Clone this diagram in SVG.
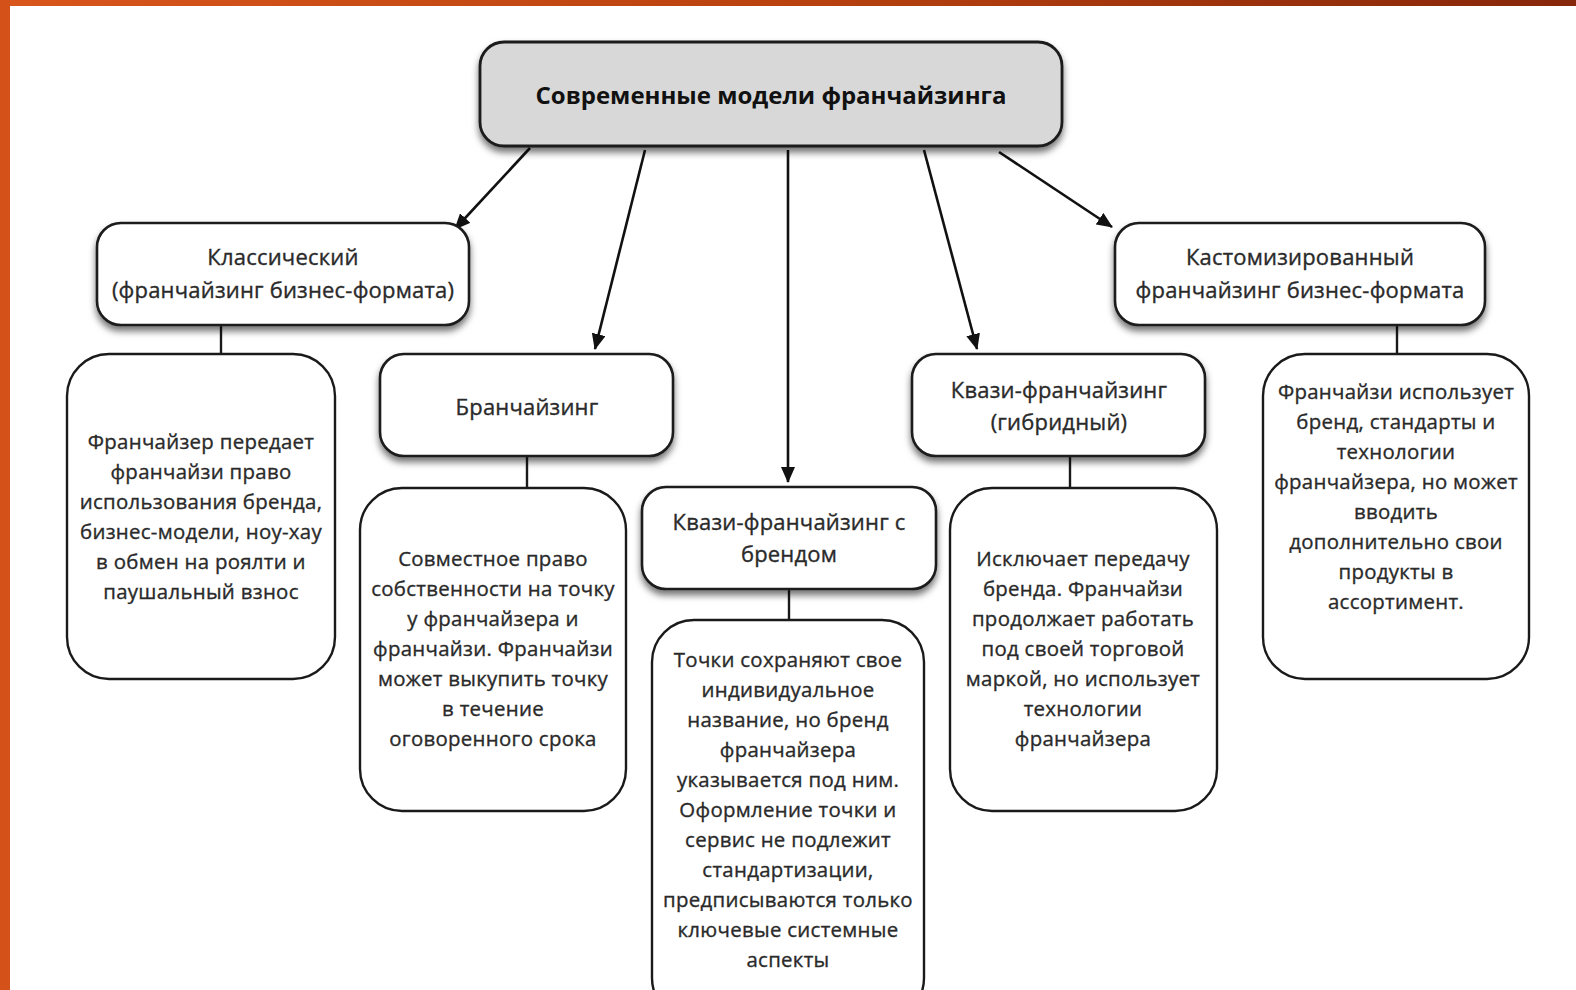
<svg xmlns="http://www.w3.org/2000/svg" width="1576" height="990" viewBox="0 0 1576 990">
<defs>
<linearGradient id="topbar" x1="0" y1="0" x2="1" y2="0">
<stop offset="0" stop-color="#d9561c"/>
<stop offset="0.5" stop-color="#b9420f"/>
<stop offset="1" stop-color="#86260a"/>
</linearGradient>
<filter id="sh" x="-10%" y="-20%" width="120%" height="150%">
<feDropShadow dx="0" dy="5" stdDeviation="3.5" flood-color="#000" flood-opacity="0.55"/>
</filter>
<marker id="ah2" viewBox="0 0 16 14" refX="15" refY="7" markerWidth="16" markerHeight="14" markerUnits="userSpaceOnUse" orient="auto">
<path d="M0,0 L16,7 L0,14 Z" fill="#111"/>
</marker>
</defs>
<style>
.hb{fill:#fff;stroke:#1a1a1a;stroke-width:2.6;filter:url(#sh)}
.db{fill:#fff;stroke:#1a1a1a;stroke-width:2.4}
.tb{fill:#d8d8d8;stroke:#1a1a1a;stroke-width:2.8;filter:url(#sh)}
text{font-family:"Open Sans","Noto Sans","DejaVu Sans",sans-serif;fill:#2a2a2a;stroke:#2a2a2a;stroke-width:0.35;text-anchor:middle}
.h{font-size:22px;letter-spacing:0.2px}
.d{font-size:20.4px;letter-spacing:0.3px}
.t{font-size:24px;font-weight:bold;fill:#111;stroke:none}
.ln{stroke:#1a1a1a;stroke-width:2.4;fill:none}
.ar{stroke:#111;stroke-width:2.6;fill:none;marker-end:url(#ah2)}
</style>
<rect x="0" y="0" width="1576" height="990" fill="#fff"/>
<rect x="0" y="0" width="1576" height="6" fill="url(#topbar)"/>
<rect x="0" y="0" width="10" height="990" fill="#d4511a"/>

<g id="connectors">
<line class="ar" x1="530" y1="148" x2="455" y2="229"/>
<line class="ar" x1="645" y1="150" x2="595" y2="349"/>
<line class="ar" x1="788" y1="150" x2="788" y2="482"/>
<line class="ar" x1="924" y1="150" x2="977" y2="349"/>
<line class="ar" x1="999" y1="152" x2="1112" y2="227"/>
<line class="ln" x1="221" y1="325" x2="221" y2="354"/>
<line class="ln" x1="527" y1="456" x2="527" y2="488"/>
<line class="ln" x1="789" y1="589" x2="789" y2="620"/>
<line class="ln" x1="1070" y1="456" x2="1070" y2="488"/>
<line class="ln" x1="1397" y1="325" x2="1397" y2="354"/>
</g>

<g id="root">
<rect class="tb" x="480" y="42" width="582" height="104" rx="24"/>
<text class="t" x="771" y="104">Современные модели франчайзинга</text>
</g>

<g id="classic">
<rect class="hb" x="97" y="223" width="372" height="102" rx="24"/>
<text class="h" x="283" y="265">Классический</text>
<text class="h" x="283" y="298">(франчайзинг бизнес-формата)</text>
</g>

<g id="custom">
<rect class="hb" x="1115" y="223" width="370" height="102" rx="24"/>
<text class="h" x="1300" y="265">Кастомизированный</text>
<text class="h" x="1300" y="298">франчайзинг бизнес-формата</text>
</g>

<g id="branch">
<rect class="hb" x="380" y="354" width="293" height="102" rx="24"/>
<text class="h" x="527" y="415">Бранчайзинг</text>
</g>

<g id="hybrid">
<rect class="hb" x="912" y="354" width="293" height="102" rx="24"/>
<text class="h" x="1059" y="398">Квази-франчайзинг</text>
<text class="h" x="1059" y="430">(гибридный)</text>
</g>

<g id="brand">
<rect class="hb" x="642" y="487" width="294" height="102" rx="24"/>
<text class="h" x="789" y="530">Квази-франчайзинг с</text>
<text class="h" x="789" y="562">брендом</text>
</g>

<g id="classic-desc">
<rect class="db" x="67" y="354" width="268" height="325" rx="42"/>
<text class="d" x="201" y="449">Франчайзер передает</text>
<text class="d" x="201" y="479">франчайзи право</text>
<text class="d" x="201" y="509">использования бренда,</text>
<text class="d" x="201" y="539">бизнес-модели, ноу-хау</text>
<text class="d" x="201" y="569">в обмен на роялти и</text>
<text class="d" x="201" y="599">паушальный взнос</text>
</g>

<g id="branch-desc">
<rect class="db" x="360" y="488" width="266" height="323" rx="42"/>
<text class="d" x="493" y="566">Совместное право</text>
<text class="d" x="493" y="596">собственности на точку</text>
<text class="d" x="493" y="626">у франчайзера и</text>
<text class="d" x="493" y="656">франчайзи. Франчайзи</text>
<text class="d" x="493" y="686">может выкупить точку</text>
<text class="d" x="493" y="716">в течение</text>
<text class="d" x="493" y="746">оговоренного срока</text>
</g>

<g id="brand-desc">
<rect class="db" x="652" y="620" width="272" height="400" rx="42"/>
<text class="d" x="788" y="667">Точки сохраняют свое</text>
<text class="d" x="788" y="697">индивидуальное</text>
<text class="d" x="788" y="727">название, но бренд</text>
<text class="d" x="788" y="757">франчайзера</text>
<text class="d" x="788" y="787">указывается под ним.</text>
<text class="d" x="788" y="817">Оформление точки и</text>
<text class="d" x="788" y="847">сервис не подлежит</text>
<text class="d" x="788" y="877">стандартизации,</text>
<text class="d" x="788" y="907">предписываются только</text>
<text class="d" x="788" y="937">ключевые системные</text>
<text class="d" x="788" y="967">аспекты</text>
</g>

<g id="hybrid-desc">
<rect class="db" x="950" y="488" width="267" height="323" rx="42"/>
<text class="d" x="1083" y="566">Исключает передачу</text>
<text class="d" x="1083" y="596">бренда. Франчайзи</text>
<text class="d" x="1083" y="626">продолжает работать</text>
<text class="d" x="1083" y="656">под своей торговой</text>
<text class="d" x="1083" y="686">маркой, но использует</text>
<text class="d" x="1083" y="716">технологии</text>
<text class="d" x="1083" y="746">франчайзера</text>
</g>

<g id="custom-desc">
<rect class="db" x="1263" y="354" width="266" height="325" rx="42"/>
<text class="d" x="1396" y="399">Франчайзи использует</text>
<text class="d" x="1396" y="429">бренд, стандарты и</text>
<text class="d" x="1396" y="459">технологии</text>
<text class="d" x="1396" y="489">франчайзера, но может</text>
<text class="d" x="1396" y="519">вводить</text>
<text class="d" x="1396" y="549">дополнительно свои</text>
<text class="d" x="1396" y="579">продукты в</text>
<text class="d" x="1396" y="609">ассортимент.</text>
</g>
</svg>
